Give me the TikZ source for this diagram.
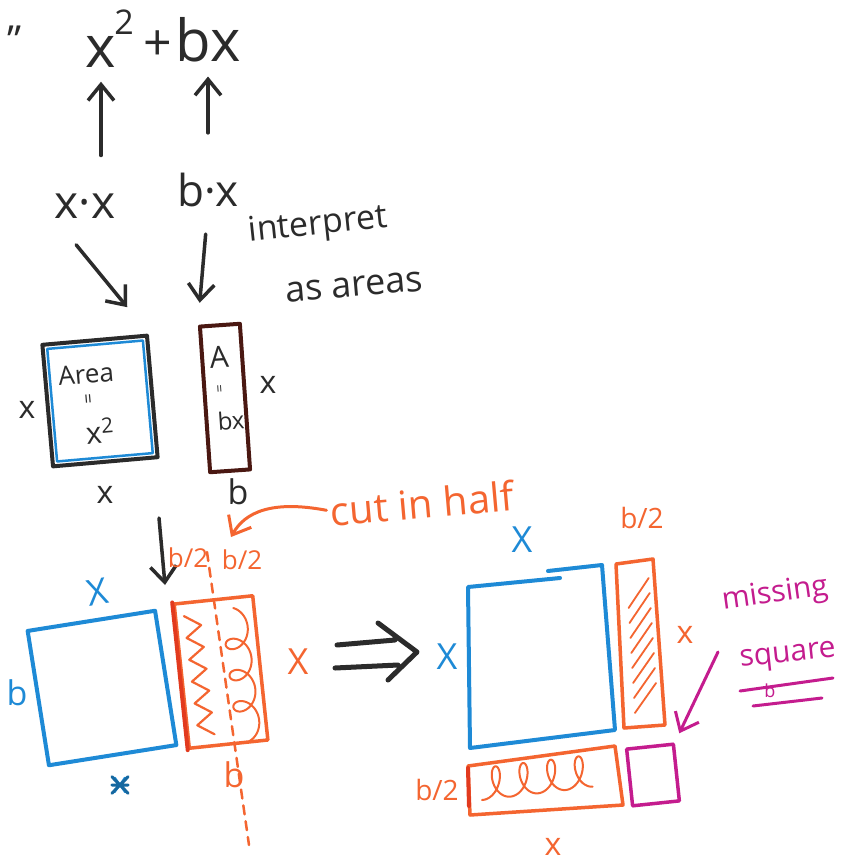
\documentclass[tikz,border=0pt]{standalone}
\usepackage{fontspec}
\setmainfont{Open Sans}
\usetikzlibrary{arrows.meta,calc}
\definecolor{ink}{HTML}{2B2B2B}
\definecolor{blu}{HTML}{1E8AD6}
\definecolor{org}{HTML}{F46530}
\definecolor{redd}{HTML}{E23A1E}
\definecolor{mag}{HTML}{C41C8E}
\definecolor{brn}{HTML}{4A1812}
\newcommand\hfs[1]{\fontsize{#1}{#1}\selectfont}
\begin{document}
\begin{tikzpicture}[x=1pt,y=-1pt,line cap=round,line join=round,color=ink,
  lbl/.style={inner sep=0pt,font=\hfs{#1}},
  arr/.style={-{Straight Barb[length=16pt,width=26pt]},line width=3.5pt},
  box/.style={inner sep=0pt,line width=4pt}]
\useasboundingbox (0,0) rectangle (850,865);
\fill[white] (0,0) rectangle (850,865);

% ---------- top formula ----------
\node[lbl=40] (quote) at (15,40) {\symbol{34}};
\node[lbl=58] (nx) at (101,52) {x};
\node[lbl=34] (n2) at (124,22) {2};
\node[lbl=50] (np) at (158,46) {+};
\node[lbl=58] (nbx) at (208,40) {bx};
\node[lbl=46] (xx) at (85,206) {x·x};
\node[lbl=44] (bx2) at (208,190) {b·x};
\draw[arr,shorten <=38pt,shorten >=14pt] (nx |- xx.north) -- (nx.south);
\draw[arr,shorten <=40pt,shorten >=14pt] (bx2.north) -- (nbx.south);
\node[lbl=34,rotate=6] (interp) at (318,226) {interpret};
\node[lbl=36,rotate=5] (areas) at (354,287) {as areas};

% ---------- area boxes ----------
\node[box,draw=ink,minimum width=105pt,minimum height=122pt,rotate=5] (box1) at (100,401) {};
\node[inner sep=0pt,draw=blu,line width=2.5pt,minimum width=96pt,minimum height=113pt,rotate=5] (box1in) at (box1.center) {};
\node[lbl=26,rotate=5] (area) at (86,374) {Area};
\node[lbl=18,rotate=95] (areq) at (90,399) {=};
\node[lbl=30,rotate=5] (ax2) at (100,431) {x\textsuperscript{2}};
\node[lbl=32] (b1l) at (27,410) {x};
\node[lbl=32] (b1b) at (105,495) {x};

\node[box,draw=brn,minimum width=40pt,minimum height=146pt,rotate=4] (box2) at (225,398) {};
\node[lbl=30,rotate=4] (ba) at (219,357) {A};
\node[lbl=14,rotate=94] (beq) at (221,389) {=};
\node[lbl=24,rotate=4] (bbx) at (231,421) {bx};
\node[lbl=32] (b2r) at (268,385) {x};
\node[lbl=34] (b2b) at (238,492) {b};

\draw[arr,shorten <=34pt,shorten >=34pt] (xx.south west) -- (box1.north east);
\draw[arr,shorten <=27pt,shorten >=22pt] (bx2.south) -- (box2.north west);

% ---------- cut in half ----------
\node[lbl=40,text=org,rotate=5] (cut) at (422,503) {cut in half};
\coordinate (cutt) at (231,537);
\draw[arr,org,line width=3pt,shorten <=4pt] (cut.west) .. controls (272,500) and (245,512) .. (cutt);

\coordinate (dA) at (159,518);
\coordinate (dB) at (165,585);
\draw[arr] (dA) -- (dB);

% ---------- left blue square ----------
\node[box,draw=blu,minimum width=129pt,minimum height=136pt,rotate=9] (bsq) at (102,688) {};
\node[lbl=36,text=blu,rotate=10] (bX) at (97,592) {X};
\node[lbl=34,text=blu] (bb) at (17,693) {b};
\node[lbl=30,text=blu] (bcx) at (120,785) {x};
\draw[blu!75!black,line width=3pt] (bcx.north west) -- (bcx.south east) (bcx.south west) -- (bcx.north east)
  (bcx.west) -- (bcx.east);

% ---------- orange strip cut in half ----------
\node[box,draw=org,line width=3.5pt,minimum width=79pt,minimum height=145pt,rotate=6] (orect) at (221,672) {};
\draw[redd,line width=4pt] (orect.north west) -- (orect.south west);
\coordinate (ctop) at (207,552);
\coordinate (cbot) at (249,845);
\draw[org,line width=2.5pt,dash pattern=on 9pt off 7pt] (ctop) -- (cbot);
\begin{scope}[shift={(221,672)},rotate=7]
  \draw[org,line width=2.2pt] (-30,-60) \foreach \k in {1,...,11} { -- ({-30+16*mod(\k,2)},{-60+11*\k}) };
  \draw[org,line width=2pt] plot[variable=\t,domain=0:1260,samples=220,smooth]
     ({20+12*sin(\t)},{-50+5*rad(\t)-12*cos(\t)});
\end{scope}
\node[lbl=26,text=org] (hl) at (188,558) {b/2};
\node[lbl=26,text=org] (hr) at (242,560) {b/2};
\node[lbl=36,text=org] (oX) at (298,662) {X};
\node[lbl=34,text=org] (ob) at (234,775) {b};

% ---------- implies ----------
\draw[ink,line width=5pt] (337,645) -- (395,640) (335,668) -- (398,665)
  (378,623) -- (417,652) -- (388,680);

% ---------- right arrangement ----------
\draw[blu,line width=4pt] (548,571) -- (602,565) -- (615,730) -- (470,748) -- (468,587) -- (560,578);
\node[lbl=36,text=blu] (rX1) at (522,540) {X};
\node[lbl=36,text=blu] (rX2) at (447,657) {X};

\draw[org,line width=3.5pt] (616,564) -- (653,559) -- (665,725) -- (624,728) -- cycle;
\foreach \y in {590,605,...,700}
  \draw[org,line width=1.8pt] ({628+0.06*(\y-580)},{\y+18}) -- ({648+0.07*(\y-580)},{\y-12});
\node[lbl=28,text=org] (rb2) at (642,518) {b/2};
\node[lbl=32,text=org] (rx) at (685,635) {x};

\draw[org,line width=3.5pt] (468,766) -- (615,746) -- (623,805) -- (470,815) -- cycle;
\draw[redd,line width=4pt] (468,768) -- (469,806);
\draw[org,line width=2pt] plot[variable=\t,domain=0:1440,samples=240,smooth]
   ({482+4.4*rad(\t)+10*sin(\t)},{800-0.12*4.4*rad(\t)+16*cos(\t)-16});
\node[lbl=28,text=org] (bb2) at (437,790) {b/2};
\node[lbl=32,text=org] (bxx) at (553,847) {x};

\node[box,draw=mag,line width=3.5pt,minimum width=47pt,minimum height=57pt,rotate=6] (msq) at (653,775) {};
\node[lbl=30,text=mag,rotate=8] (miss) at (775,595) {missing};
\node[lbl=30,text=mag,rotate=6] (squ) at (788,657) {square};
\draw[mag,line width=3pt] (740,691) -- (833,678) (753,706) -- (822,698);
\node[lbl=18,text=mag] (mb) at (770,691) {b};
\coordinate (mt) at (718,652);
\draw[arr,mag,line width=3pt,shorten >=10pt] (mt) -- (msq.north east);
\end{tikzpicture}
\end{document}
